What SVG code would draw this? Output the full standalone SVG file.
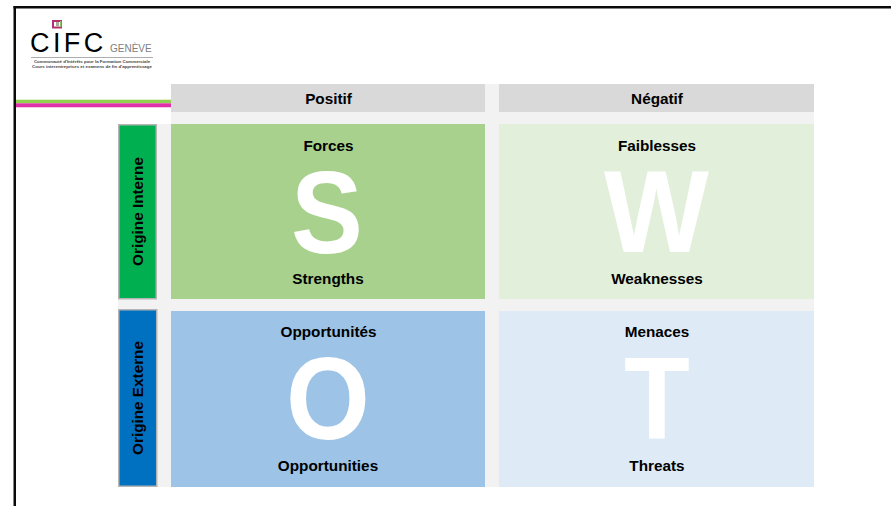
<svg xmlns="http://www.w3.org/2000/svg" width="891" height="506" viewBox="0 0 891 506">
<style>
text{font-family:"Liberation Sans",Arial,sans-serif;fill:#000}
.b{font-weight:700;font-size:15.3px;text-anchor:middle}
.big{font-weight:700;font-size:110px;text-anchor:middle;fill:#fff}
.side{stroke:#b5b5b5;stroke-width:1.5}
.sub{font-size:4.400px;font-weight:700;text-anchor:middle;fill:#444}
</style>
<rect width="891" height="506" fill="#fff"/>
<g id="frame">
<rect x="13.500" y="6" width="877.500" height="2.500" fill="#0a0a0a"/>
<rect x="13.500" y="6" width="2.500" height="500" fill="#0a0a0a"/>
</g>
<g id="logo">
<rect x="53" y="21" width="8" height="6.500" fill="#fff" stroke="#b5306e" stroke-width="2"/>
<rect x="56" y="22" width="3" height="4.500" fill="#a9a9a0"/>
<rect x="60" y="21" width="1.500" height="6" fill="#8fc36a"/>
<text x="30" y="51.500" font-size="27" letter-spacing="3.400">CIFC</text>
<text x="110" y="52" font-size="10" style="fill:#808080">GENÈVE</text>
<rect x="31" y="57" width="122" height="0.800" fill="#999"/>
<text class="sub" x="92" y="63.300">Communauté d'Intérêts pour la Formation Commerciale</text>
<text class="sub" x="92" y="68.300">Cours interentreprises et examens de fin d'apprentissage</text>
</g>
<g id="stripes">
<rect x="16" y="99.700" width="155" height="3.600" fill="#92d050"/>
<rect x="16" y="103.300" width="155" height="3.700" fill="#e032a8"/>
<rect x="16" y="107" width="155" height="0.800" fill="#f3b8e0"/>
</g>
<g id="background">
<rect x="171" y="112" width="643" height="12" fill="#f2f2f2"/>
<rect x="157" y="124" width="14" height="363" fill="#f2f2f2"/>
<rect x="485" y="84" width="14" height="403" fill="#f2f2f2"/>
<rect x="118" y="299" width="696" height="12" fill="#f2f2f2"/>
</g>
<g id="header-positif"><rect x="171" y="84" width="314" height="28" fill="#d9d9d9"/><text class="b" x="328.500" y="104">Positif</text></g>
<g id="header-negatif"><rect x="499" y="84" width="315" height="28" fill="#d9d9d9"/><text class="b" x="657" y="104">Négatif</text></g>
<g id="origine-interne"><rect class="side" x="118.750" y="124.750" width="37.500" height="174" fill="#00b050"/><text class="b" transform="translate(143,211.500) rotate(-90)">Origine Interne</text></g>
<g id="origine-externe"><rect class="side" x="118.750" y="309.750" width="38" height="176.500" fill="#0070c0"/><text class="b" transform="translate(143,398) rotate(-90)">Origine Externe</text></g>
<g id="strengths"><rect x="171" y="124" width="314" height="175" fill="#a9d18e"/><text class="big" transform="translate(327,252.700) scale(0.98,1.07)">S</text><text class="b" x="328.500" y="150.500">Forces</text><text class="b" x="328" y="284">Strengths</text></g>
<g id="weaknesses"><rect x="499" y="124" width="315" height="175" fill="#e2efda"/><text class="big" transform="translate(656.500,252.200) scale(1.010,1.065)">W</text><text class="b" x="657" y="150.500">Faiblesses</text><text class="b" x="657" y="284">Weaknesses</text></g>
<g id="opportunities"><rect x="171" y="311" width="314" height="176" fill="#9dc3e6"/><text class="big" transform="translate(328,438.700) scale(0.98,1.07)">O</text><text class="b" x="328.500" y="337">Opportunités</text><text class="b" x="328" y="471">Opportunities</text></g>
<g id="threats"><rect x="499" y="311" width="315" height="176" fill="#deebf7"/><text class="big" transform="translate(657,438.700) scale(0.98,1.07)">T</text><text class="b" x="657" y="337">Menaces</text><text class="b" x="657" y="471">Threats</text></g>
<g id="connectors"/>
</svg>
